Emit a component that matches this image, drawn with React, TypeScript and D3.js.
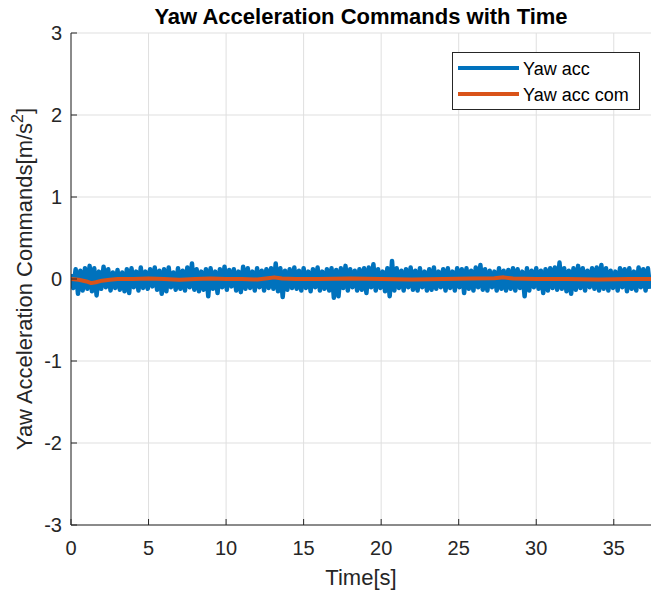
import React from "react";
import * as d3 from "d3";

const title = "Yaw Acceleration Commands with Time";
const xLabel = "Time[s]";
const xTicks = [0, 5, 10, 15, 20, 25, 30, 35];
const yTicks = [-3, -2, -1, 0, 1, 2, 3];
const xDomain = [0, 37.4];
const yDomain = [-3, 3];
const seriesNames = ["Yaw acc", "Yaw acc com"];
const seriesColors = ["#0072BD", "#D95319"];

const sampleStep = 0.15;
const yawAcc = [
  0.06, -0.11, 0.12, -0.18, 0.10, -0.14, 0.13, -0.12, 0.16, -0.15,
  0.13, -0.20, 0.09, -0.12, 0.15, -0.10, 0.12, -0.14, 0.08, -0.11,
  0.11, -0.13, 0.08, -0.15, 0.12, -0.17, 0.13, -0.10, 0.09, -0.14,
  0.14, -0.11, 0.09, -0.12, 0.12, -0.09, 0.14, -0.13, 0.10, -0.18,
  0.12, -0.15, 0.14, -0.10, 0.08, -0.13, 0.13, -0.12, 0.10, -0.14,
  0.14, -0.10, 0.19, -0.13, 0.12, -0.15, 0.09, -0.13, 0.12, -0.21,
  0.13, -0.12, 0.09, -0.17, 0.12, -0.10, 0.15, -0.13, 0.11, -0.09,
  0.12, -0.14, 0.09, -0.16, 0.15, -0.12, 0.13, -0.11, 0.09, -0.14,
  0.13, -0.10, 0.10, -0.14, 0.12, -0.11, 0.13, -0.12, 0.19, -0.15,
  0.13, -0.22, 0.10, -0.13, 0.12, -0.11, 0.14, -0.12, 0.10, -0.14,
  0.13, -0.11, 0.09, -0.15, 0.12, -0.10, 0.14, -0.14, 0.09, -0.12,
  0.12, -0.14, 0.13, -0.23, 0.11, -0.21, 0.13, -0.11, 0.16, -0.14,
  0.12, -0.10, 0.10, -0.14, 0.12, -0.13, 0.13, -0.17, 0.14, -0.10,
  0.18, -0.14, 0.12, -0.11, 0.09, -0.15, 0.13, -0.21, 0.22, -0.14,
  0.13, -0.11, 0.10, -0.14, 0.12, -0.10, 0.14, -0.13, 0.10, -0.14,
  0.13, -0.10, 0.09, -0.14, 0.12, -0.13, 0.14, -0.12, 0.09, -0.10,
  0.12, -0.14, 0.13, -0.11, 0.09, -0.14, 0.13, -0.10, 0.12, -0.17,
  0.13, -0.12, 0.10, -0.14, 0.14, -0.10, 0.17, -0.13, 0.12, -0.14,
  0.10, -0.10, 0.09, -0.14, 0.13, -0.12, 0.10, -0.14, 0.11, -0.12,
  0.13, -0.14, 0.12, -0.11, 0.09, -0.21, 0.13, -0.14, 0.10, -0.10,
  0.13, -0.12, 0.10, -0.17, 0.12, -0.14, 0.13, -0.11, 0.14, -0.13,
  0.20, -0.12, 0.13, -0.15, 0.10, -0.18, 0.13, -0.13, 0.16, -0.11,
  0.13, -0.14, 0.10, -0.10, 0.13, -0.12, 0.14, -0.14, 0.17, -0.12,
  0.13, -0.14, 0.10, -0.11, 0.09, -0.14, 0.13, -0.10, 0.12, -0.15,
  0.13, -0.12, 0.09, -0.14, 0.14, -0.10, 0.12, -0.14, 0.13, -0.12,
];

// Yaw acc com
const comTimes = [0, 0.5, 1.0, 1.3, 1.6, 2.0, 2.5, 3.0, 4, 5, 6, 7, 8, 9, 10, 11, 12, 12.7, 13.1, 13.6, 14.5, 16, 18, 20, 22, 24, 26, 27.3, 27.9, 28.5, 30, 32, 34, 36, 37.4];
const comValues = [0, -0.01, -0.03, -0.05, -0.04, -0.02, -0.01, 0, 0, 0.005, 0, -0.01, 0, 0.005, 0, 0, -0.005, 0.01, 0.02, 0.005, 0, 0, 0.005, 0, -0.005, 0, 0.005, 0.01, 0.02, 0.005, 0, 0, -0.005, 0, 0];

const W = 651;
const H = 595;
const m = { left: 71, right: 0, top: 33, bottom: 70 };

export default function App() {
  const x = d3.scaleLinear().domain(xDomain).range([m.left, W - m.right]);
  const y = d3.scaleLinear().domain(yDomain).range([525, m.top]);
  const accPts: [number, number][] = yawAcc.map((v, i) => [i * sampleStep, v]);
  const comPts: [number, number][] = comTimes.map((t, i) => [t, comValues[i]]);
  const line = d3.line<[number, number]>().x((d) => x(d[0])).y((d) => y(d[1]));
  const axisColor = "#262626";
  const font = "'Liberation Sans', Arial, Helvetica, sans-serif";
  const x0 = x(xDomain[0]);
  const yb = y(yDomain[0]);
  return (
    <svg width={W} height={H} style={{ position: "absolute", left: 0, top: 0, background: "#fff" }} fontFamily={font}>
      <rect x={0} y={0} width={W} height={H} fill="#fff" />
      {/* grid */}
      {xTicks.map((t) => (
        <line key={"gx" + t} x1={x(t)} x2={x(t)} y1={y(3)} y2={yb} stroke="#dfdfdf" strokeWidth={1} />
      ))}
      {yTicks.map((t) => (
        <line key={"gy" + t} x1={x0} x2={W} y1={y(t)} y2={y(t)} stroke="#dfdfdf" strokeWidth={1} />
      ))}
      <defs>
        <clipPath id="clip">
          <rect x={x0} y={y(3)} width={W - x0} height={yb - y(3)} />
        </clipPath>
      </defs>
      <g clipPath="url(#clip)">
        <path d={line(accPts) || ""} fill="none" stroke={seriesColors[0]} strokeWidth={4.5} strokeLinejoin="round" />
        <path d={line(comPts) || ""} fill="none" stroke={seriesColors[1]} strokeWidth={4} strokeLinejoin="round" />
      </g>
      {/* axes */}
      <line x1={x0} x2={x0} y1={y(3)} y2={yb} stroke={axisColor} strokeWidth={1} />
      <line x1={x0} x2={W} y1={yb} y2={yb} stroke={axisColor} strokeWidth={1} />
      {xTicks.map((t) => (
        <g key={"tx" + t}>
          <line x1={x(t)} x2={x(t)} y1={yb} y2={yb - 6} stroke={axisColor} strokeWidth={1} />
          <text x={x(t)} y={yb + 30} textAnchor="middle" fontSize={20} fill={axisColor}>{t}</text>
        </g>
      ))}
      {yTicks.map((t) => (
        <g key={"ty" + t}>
          <line x1={x0} x2={x0 + 6} y1={y(t)} y2={y(t)} stroke={axisColor} strokeWidth={1} />
          <text x={x0 - 9} y={y(t) + 7} textAnchor="end" fontSize={20} fill={axisColor}>{t}</text>
        </g>
      ))}
      <text x={(x0 + W) / 2} y={24} textAnchor="middle" fontSize={22} fontWeight="bold" fill="#000">{title}</text>
      <text x={(x0 + W) / 2} y={585} textAnchor="middle" fontSize={22} fill={axisColor}>{xLabel}</text>
      <text transform={`translate(32, ${(y(3) + yb) / 2}) rotate(-90)`} textAnchor="middle" fontSize={22} fill={axisColor}>
        Yaw Acceleration Commands[m/s<tspan dy={-9} fontSize={16}>2</tspan><tspan dy={9}>]</tspan>
      </text>
      {/* legend */}
      <rect x={452.5} y={52.5} width={187} height={57} fill="#fff" stroke={axisColor} strokeWidth={1} />
      {seriesNames.map((n, i) => (
        <g key={n}>
          <line x1={458} x2={519} y1={68 + i * 26} y2={68 + i * 26} stroke={seriesColors[i]} strokeWidth={4} />
          <text x={523} y={74.5 + i * 26} fontSize={18} fill="#000">{n}</text>
        </g>
      ))}
    </svg>
  );
}
